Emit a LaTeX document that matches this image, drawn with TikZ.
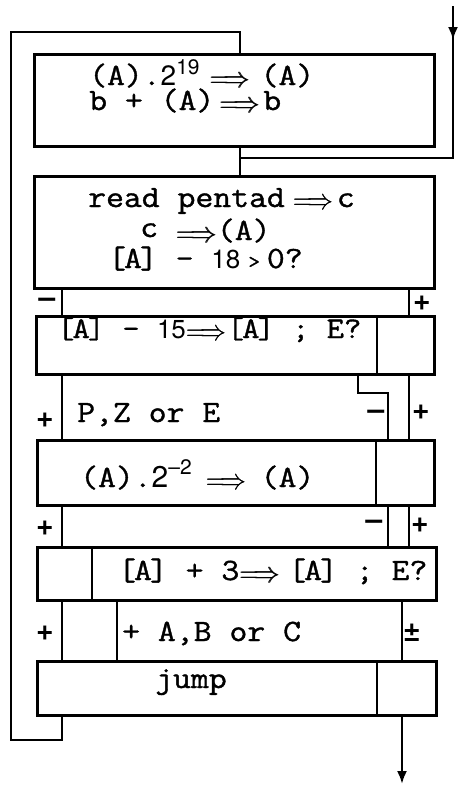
\documentclass[tikz,border=0pt]{standalone}
\usepackage{fontspec}
\newfontfamily\tw[FakeStretch=1.12,FakeBold=1.2]{Latin Modern Mono}
\newfontfamily\hvf{TeX Gyre Heros}
\usetikzlibrary{arrows.meta}
\newcommand\raA{\scalebox{1.25}[1.4]{\fontsize{20}{20}\selectfont$\Longrightarrow$}}
\newcommand\ra{\raisebox{-2pt}{\rlap{\raA}\kern0.7pt\raA}}
\newcommand\dg[2][25]{{\hvf\fontsize{#1}{#1}\selectfont #2}}
\newcommand\spx[2][11pt]{\raisebox{#1}{\hvf\fontsize{21}{21}\selectfont #2}}
\newcommand\bA{[\kern-2pt A\kern-2pt]}
\begin{document}
\begin{tikzpicture}[x=1pt,y=-1pt,
  box/.style={draw, line width=2.7pt, inner sep=0pt, anchor=north west},
  dv/.style={line width=2.7pt},
  ln/.style={line width=2.3pt},
  tx/.style={anchor=base west, inner sep=0pt, font=\tw\fontsize{31}{31}\selectfont},
  sg/.style={inner sep=0pt, font=\hvf\bfseries\fontsize{30}{30}\selectfont},
  tip/.style={-{Latex[length=13pt,width=10pt]}}
]
\useasboundingbox (0,0) rectangle (458,785);
% boxes
\node[box, minimum width=400pt, minimum height=92pt] (b1) at (33,53) {};
\node[box, minimum width=400pt, minimum height=112pt] (b2) at (33,175) {};
\node[box, minimum width=398pt, minimum height=58pt] (b3) at (35,315) {};
\node[box, minimum width=397pt, minimum height=65pt] (b4) at (36,439) {};
\node[box, minimum width=399pt, minimum height=53pt] (b5) at (36,546) {};
\node[box, minimum width=399pt, minimum height=54pt] (b6) at (36,660) {};
% x positions
\coordinate (d3) at (377,0);
\coordinate (d4) at (376,0);
\coordinate (d5) at (92,0);
\coordinate (d6) at (377,0);
\coordinate (xm) at (240,0);
\coordinate (xl) at (62,0);
\coordinate (xs) at (358,0);
\coordinate (xr) at (409,0);
\coordinate (xq) at (388,0);
\coordinate (xb) at (117,0);
\coordinate (xo) at (402,0);
% dividers
\draw[dv] (b3.north -| d3) -- (b3.south -| d3);
\draw[dv] (b4.north -| d4) -- (b4.south -| d4);
\draw[dv] (b5.north -| d5) -- (b5.south -| d5);
\draw[dv] (b6.north -| d6) -- (b6.south -| d6);
% loop back
\coordinate (lb) at (11,740);
\coordinate (lt) at (11,32);
\draw[ln] (b6.south -| xl) |- (lb) -- (lt) -| (b1.north -| xm);
% entry
\coordinate (in) at (453,6);
\coordinate (inm) at (453,40);
\coordinate (inc) at (453,158);
\draw[ln] (in) -- (inc) -- (inc -| xm);
\draw[ln,tip] (in) -- (inm);
\draw[ln] (b1.south -| xm) -- (b2.north -| xm);
% b2 -> b3
\draw[ln] (b2.south -| xl) -- (b3.north -| xl);
\draw[ln] (b2.south -| xr) -- (b3.north -| xr);
% b3 -> b4
\coordinate (st) at (358,393);
\draw[ln] (b3.south -| xl) -- (b4.north -| xl);
\draw[ln] (b3.south -| xs) -- (st) -| (b4.north -| xq);
\draw[ln] (b3.south -| xr) -- (b4.north -| xr);
% b4 -> b5
\draw[ln] (b4.south -| xl) -- (b5.north -| xl);
\draw[ln] (b4.south -| xq) -- (b5.north -| xq);
\draw[ln] (b4.south -| xr) -- (b5.north -| xr);
% b5 -> b6
\draw[ln] (b5.south -| xl) -- (b6.north -| xl);
\draw[ln] (b5.south -| xb) -- (b6.north -| xb);
\draw[ln] (b5.south -| xo) -- (b6.north -| xo);
% exit
\coordinate (out) at (402,784);
\draw[ln,tip] (b6.south -| xo) -- (out);
% texts
\node[tx] (t11) at (89,85) {(A).\dg[28]{2}\spx{19}\hspace{10pt}\ra\hspace{10pt}(A)};
\node[tx] (t12) at (89,110) {b + (A)\hspace{5pt}\ra\hspace{3pt}b};
\node[tx] (t21) at (88,207) {read pentad\hspace{8pt}\ra\hspace{3pt}c};
\node[tx] (t22) at (140,240) {\raisebox{3pt}{c} \ra(A)};
\node[tx] (t23) at (108,268) {\bA{} - \dg[26]{18}\hspace{8pt}{\fontsize{20}{20}\selectfont>}\hspace{7pt}0?};
\node[tx, font=\tw\fontsize{30}{31}\selectfont] (t3) at (57,338) {\bA{} - \dg[26]{15}\ra\bA{} ; E?};
\node[tx] (t4) at (80,487) {(A).\dg[30]{2}\spx[13pt]{\textendash2}\hspace{14pt}\ra\hspace{14pt}(A)};
\node[tx] (t5) at (118,580) {\bA{} + 3\ra\hspace{8pt}\bA{} ; E?};
\node[tx] (tp) at (77,422) {P,Z or E};
\node[tx] (ta) at (122,641) {+ A,B or C};
\node[tx] (tj) at (155,688) {jump};
% signs
\node[sg] (s1) at (47,303) {\textendash};
\node[sg] (s2) at (422,303) {+};
\node[sg] (s3) at (45,420) {+};
\node[sg] (s4) at (376,415) {\textendash};
\node[sg] (s5) at (421,412) {+};
\node[sg] (s6) at (45,528) {+};
\node[sg] (s7) at (374,525) {\textendash};
\node[sg] (s8) at (420,525) {+};
\node[sg] (s9) at (45,633) {+};
\node[sg] (s10) at (412,633) {±};
\end{tikzpicture}
\end{document}
